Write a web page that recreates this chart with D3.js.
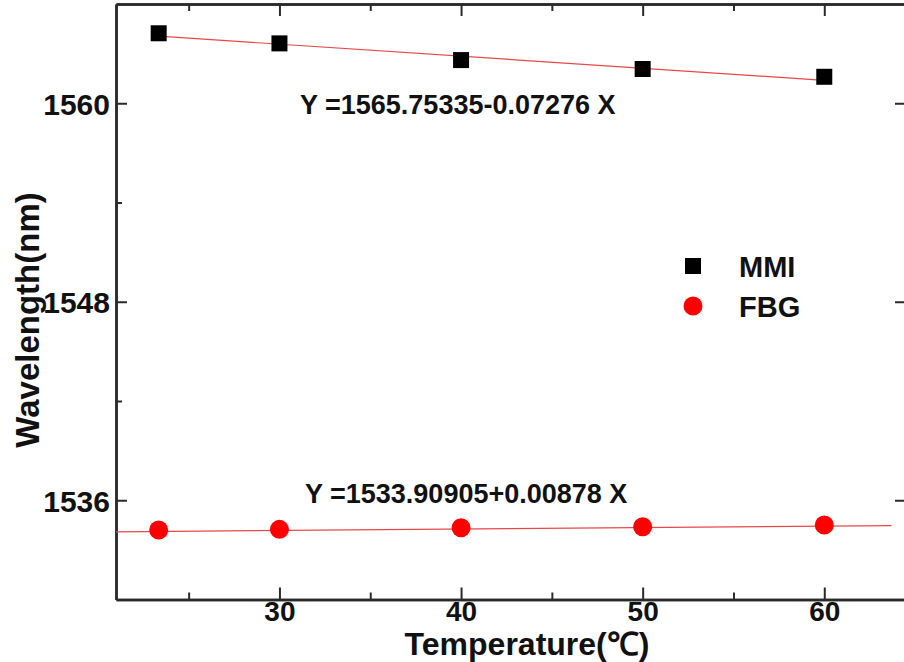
<!DOCTYPE html>
<html>
<head>
<meta charset="utf-8">
<script src="https://cdn.jsdelivr.net/npm/d3@7"></script>
<style>
  body { margin: 0; background: #fff; }
  svg { display: block; font-family: "Liberation Sans", Arial, sans-serif; font-weight: bold; }
</style>
</head>
<body>
<svg></svg>
<script>
// values
const temps = [23.35, 30, 40, 50, 60];
const mmi = [1564.23, 1563.62, 1562.61, 1562.07, 1561.60];
const fbg = [1534.20, 1534.24, 1534.34, 1534.40, 1534.50];
const xTicks = [30, 40, 50, 60];
const xMinor = [25, 35, 45, 55];
const yTicks = [1536, 1548, 1560];
const yMinor = [1542, 1554];
const mmiFit = [1565.75335, -0.07276];
const fbgFit = [1533.90905, 0.00878];
const mmiFitRange = [23.35, 60];
const fbgFitRange = [21, 63.7];

drawChart();

function drawChart() {
    let width = 904;
    let height = 662;

    let svg = d3.select('svg')
        .attr("width", width)
        .attr("height", height)
        .style('background-color', '#fff');

    let x = d3.scaleLinear().domain([21, 64.5]).range([116, 906]);
    let y = d3.scaleLinear().domain([1530, 1566]).range([599.5, 4]);

    const axisColor = "#2a2a2a";
    const fmt = d3.format("d");

    // frame axes
    let bottom = svg.append("g").attr("transform", `translate(0,${y(1530)})`)
        .call(d3.axisBottom(x).tickValues(xTicks).tickFormat(fmt).tickSizeInner(-12).tickSizeOuter(0).tickPadding(2));
    bottom.selectAll("text").style("font-size", "28px").attr("fill", "#111");
    svg.append("g").attr("transform", `translate(0,${y(1530)})`)
        .call(d3.axisBottom(x).tickValues(xMinor).tickSizeInner(-7).tickSizeOuter(0).tickFormat(""));

    svg.append("g").attr("transform", `translate(0,${y(1566)})`)
        .call(d3.axisTop(x).tickValues(xTicks).tickSizeInner(-12).tickSizeOuter(0).tickFormat(""));
    svg.append("g").attr("transform", `translate(0,${y(1566)})`)
        .call(d3.axisTop(x).tickValues(xMinor).tickSizeInner(-7).tickSizeOuter(0).tickFormat(""));

    let left = svg.append("g").attr("transform", `translate(${x(21)},0)`)
        .call(d3.axisLeft(y).tickValues(yTicks).tickFormat(fmt).tickSizeInner(-11).tickSizeOuter(0).tickPadding(6));
    left.selectAll("text").style("font-size", "30px").attr("fill", "#111").attr("dy", "0.36em");
    svg.append("g").attr("transform", `translate(${x(21)},0)`)
        .call(d3.axisLeft(y).tickValues(yMinor).tickSizeInner(-6).tickSizeOuter(0).tickFormat(""));

    svg.append("g").attr("transform", `translate(${x(64.5)},0)`)
        .call(d3.axisRight(y).tickValues(yTicks).tickSizeInner(-11).tickSizeOuter(0).tickFormat(""));

    svg.selectAll(".domain").attr("stroke", axisColor).attr("stroke-width", 2.5);
    svg.selectAll(".tick line").attr("stroke", axisColor).attr("stroke-width", 2);

    // fit lines
    const fitLine = (c, r) => svg.append("line")
        .attr("x1", x(r[0])).attr("y1", y(c[0] + c[1] * r[0]))
        .attr("x2", x(r[1])).attr("y2", y(c[0] + c[1] * r[1]))
        .attr("stroke", "#e8474a").attr("stroke-width", 1.2);
    fitLine(mmiFit, mmiFitRange);
    fitLine(fbgFit, fbgFitRange);

    // data marks
    const sq = 16;
    svg.selectAll("rect.mmi")
        .data(temps.map((t, i) => [t, mmi[i]]))
        .enter().append("rect")
        .attr("class", "mmi")
        .attr("x", d => x(d[0]) - sq / 2)
        .attr("y", d => y(d[1]) - sq / 2)
        .attr("width", sq)
        .attr("height", sq)
        .attr("fill", "#000");

    svg.selectAll("circle.fbg")
        .data(temps.map((t, i) => [t, fbg[i]]))
        .enter().append("circle")
        .attr("class", "fbg")
        .attr("cx", d => x(d[0]))
        .attr("cy", d => y(d[1]))
        .attr("r", 9.5)
        .attr("fill", "#ff0000");

    // equations
    svg.append("text").attr("x", 300).attr("y", 114)
        .style("font-size", "27px").attr("fill", "#111")
        .text("Y =1565.75335-0.07276 X");
    svg.append("text").attr("x", 305).attr("y", 503)
        .style("font-size", "27px").attr("fill", "#111")
        .text("Y =1533.90905+0.00878 X");

    // legend
    svg.append("rect").attr("x", 685).attr("y", 258).attr("width", 16).attr("height", 16).attr("fill", "#000");
    svg.append("circle").attr("cx", 693).attr("cy", 306).attr("r", 9.5).attr("fill", "#ff0000");
    svg.append("text").attr("x", 739).attr("y", 277).style("font-size", "29px").attr("fill", "#111").text("MMI");
    svg.append("text").attr("x", 739).attr("y", 317).style("font-size", "29px").attr("fill", "#111").text("FBG");

    // axis titles
    svg.append("text").attr("x", 527).attr("y", 655)
        .attr("text-anchor", "middle").style("font-size", "32px").attr("fill", "#111")
        .text("Temperature(℃)");
    svg.append("text")
        .attr("transform", "translate(39,320) rotate(-90)")
        .attr("text-anchor", "middle").style("font-size", "33px").attr("fill", "#111")
        .text("Wavelength(nm)");
}
</script>
</body>
</html>
